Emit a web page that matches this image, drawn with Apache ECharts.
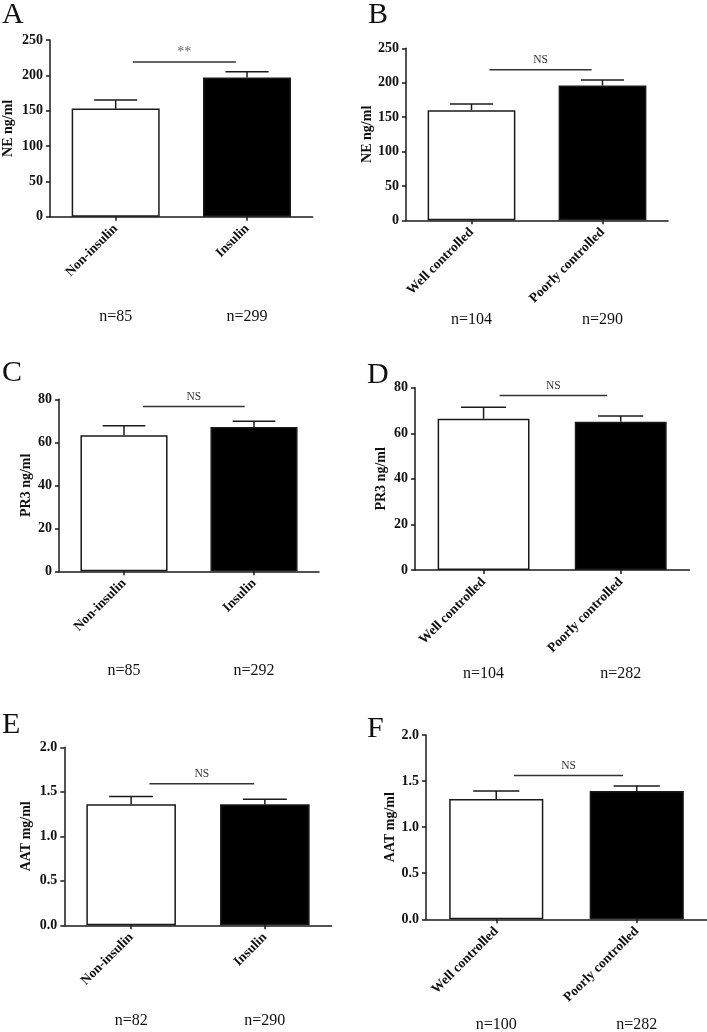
<!DOCTYPE html>
<html>
<head>
<meta charset="utf-8">
<script src="https://cdn.jsdelivr.net/npm/echarts@6/dist/echarts.min.js"></script>
<style>
html,body{margin:0;padding:0;background:#fff;}
#chart{width:707px;height:1032px;}
</style>
</head>
<body>
<div id="chart"></div>
<script>
// ---------- DATA ----------
const panelLetters = ['A', 'B', 'C', 'D', 'E', 'F'];
const insulinCategories = ['Non-insulin', 'Insulin'];
const controlCategories = ['Well controlled', 'Poorly controlled'];

const neInsulinMean = [153, 197];
const neInsulinSem = [12, 8];
const neControlMean = [160, 196];
const neControlSem = [9, 8];

const pr3InsulinMean = [63.3, 67.1];
const pr3InsulinSem = [4.4, 2.7];
const pr3ControlMean = [66.4, 65.1];
const pr3ControlSem = [5.0, 2.5];

const aatInsulinMean = [1.36, 1.36];
const aatInsulinSem = [0.088, 0.056];
const aatControlMean = [1.305, 1.392];
const aatControlSem = [0.087, 0.055];

const nNeInsulin = ['n=85', 'n=299'];
const nNeControl = ['n=104', 'n=290'];
const nPr3Insulin = ['n=85', 'n=292'];
const nPr3Control = ['n=104', 'n=282'];
const nAatInsulin = ['n=82', 'n=290'];
const nAatControl = ['n=100', 'n=282'];

const yTitles = ['NE ng/ml', 'NE ng/ml', 'PR3 ng/ml', 'PR3 ng/ml', 'AAT mg/ml', 'AAT mg/ml'];
const yMax = [250, 250, 80, 80, 2, 2];
const yInterval = [50, 50, 20, 20, 0.5, 0.5];
const yDecimals = [0, 0, 0, 0, 1, 1];

const sigLabels = ['**', 'NS', 'NS', 'NS', 'NS', 'NS'];
const sigLevels = [219, 219, 76.6, 76.6, 1.59, 1.56];

// ---------- LAYOUT ----------
const panels = [
  {cats: insulinCategories, mean: neInsulinMean, sem: neInsulinSem, n: nNeInsulin,
   grid: {left: 47, top: 40, width: 265.7, height: 176.7}, nameGap: 35, nOff: 100,
   sig: [0.13, 0.915], letter: [2, 13.5]},
  {cats: controlCategories, mean: neControlMean, sem: neControlSem, n: nNeControl,
   grid: {left: 406, top: 48.3, width: 262, height: 172}, nameGap: 32, nOff: 99,
   sig: [0.137, 0.917], letter: [368, 13.5]},
  {cats: insulinCategories, mean: pr3InsulinMean, sem: pr3InsulinSem, n: nPr3Insulin,
   grid: {left: 59, top: 399.3, width: 260, height: 172}, nameGap: 26, nOff: 99,
   sig: [0.145, 0.928], letter: [2, 371.5]},
  {cats: controlCategories, mean: pr3ControlMean, sem: pr3ControlSem, n: nPr3Control,
   grid: {left: 415, top: 387.7, width: 274.3, height: 182.3}, nameGap: 27, nOff: 104,
   sig: [0.117, 0.9], letter: [367, 373]},
  {cats: insulinCategories, mean: aatInsulinMean, sem: aatInsulinSem, n: nAatInsulin,
   grid: {left: 64.3, top: 747.3, width: 267.4, height: 178}, nameGap: 31, nOff: 95,
   sig: [0.137, 0.92], letter: [2, 723]},
  {cats: controlCategories, mean: aatControlMean, sem: aatControlSem, n: nAatControl,
   grid: {left: 426, top: 735, width: 281, height: 184.3}, nameGap: 28, nOff: 105,
   sig: [0.126, 0.903], letter: [367, 727]}
];

const FONT = '"Liberation Serif", "Times New Roman", serif';
const AX = '#1a1a1a';
const BAR_FRAC = 0.67;

const grids = [], xAxes = [], yAxes = [], series = [], graphics = [];

panels.forEach((p, i) => {
  grids.push(Object.assign({containLabel: false}, p.grid));
  xAxes.push({
    type: 'category', gridIndex: i, data: p.cats, boundaryGap: true,
    axisLine: {show: true, lineStyle: {color: AX, width: 1.5}},
    axisTick: {show: true, alignWithLabel: true, length: 4, lineStyle: {color: AX, width: 1.5}},
    axisLabel: {interval: 0, rotate: 45, margin: 10, color: '#111',
      fontFamily: FONT, fontWeight: 'bold', fontSize: 13.5},
    splitLine: {show: false}
  });
  yAxes.push({
    type: 'value', gridIndex: i, min: 0, max: yMax[i], interval: yInterval[i],
    name: yTitles[i], nameLocation: 'middle', nameGap: p.nameGap,
    nameTextStyle: {fontFamily: FONT, fontWeight: 'bold', fontSize: 14, color: '#111'},
    axisLine: {show: true, lineStyle: {color: AX, width: 1.5}},
    axisTick: {show: true, length: 4, lineStyle: {color: AX, width: 1.5}},
    axisLabel: {margin: 7, color: '#111', fontFamily: FONT, fontWeight: 'bold', fontSize: 14,
      formatter: v => v.toFixed(yDecimals[i])},
    splitLine: {show: false}
  });
  series.push({
    type: 'bar', xAxisIndex: i, yAxisIndex: i, barWidth: (BAR_FRAC * 100) + '%',
    data: p.mean.map((v, k) => ({
      value: v,
      itemStyle: {color: k === 0 ? '#ffffff' : '#000000', borderColor: '#1a1a1a', borderWidth: 1.5}
    })),
    silent: true, z: 2
  });
  // error bars (upper SEM)
  series.push({
    type: 'custom', xAxisIndex: i, yAxisIndex: i, clip: false, silent: true, z: 5,
    data: p.mean.map((v, k) => [k, v, p.sem[k]]),
    renderItem: (params, api) => {
      const x = api.value(0), m = api.value(1), s = api.value(2);
      const p0 = api.coord([x, m]);
      const p1 = api.coord([x, m + s]);
      const band = api.coord([1, 0])[0] - api.coord([0, 0])[0];
      const half = band * BAR_FRAC * 0.245;
      const st = {stroke: '#1a1a1a', lineWidth: 1.5};
      return {type: 'group', children: [
        {type: 'line', shape: {x1: p0[0], y1: p0[1], x2: p1[0], y2: p1[1]}, style: st},
        {type: 'line', shape: {x1: p1[0] - half, y1: p1[1], x2: p1[0] + half, y2: p1[1]}, style: st}
      ]};
    }
  });
  // significance line and label
  series.push({
    type: 'custom', xAxisIndex: i, yAxisIndex: i, clip: false, silent: true, z: 5,
    data: [[0, sigLevels[i]]],
    renderItem: (params, api) => {
      const y = api.value(1);
      const c0 = api.coord([0, y]);
      const band = api.coord([1, y])[0] - c0[0];
      const xa = c0[0] + p.sig[0] * band, xb = c0[0] + p.sig[1] * band;
      return {type: 'group', children: [
        {type: 'line', shape: {x1: xa, y1: c0[1], x2: xb, y2: c0[1]}, style: {stroke: '#333', lineWidth: 1.5}},
        {type: 'text', x: (xa + xb) / 2, y: c0[1] - 9.5,
         style: {text: sigLabels[i], align: 'center', verticalAlign: 'middle',
           font: (sigLabels[i] === '**' ? '14px ' : '11.5px ') + FONT, fill: sigLabels[i] === '**' ? '#666' : '#333'}}
      ]};
    }
  });
  // n labels under categories
  series.push({
    type: 'custom', xAxisIndex: i, yAxisIndex: i, clip: false, silent: true, z: 5,
    data: p.n.map((t, k) => [k, 0]),
    renderItem: (params, api) => {
      const c = api.coord([api.value(0), 0]);
      return {type: 'text', x: c[0], y: c[1] + p.nOff,
        style: {text: p.n[params.dataIndex], align: 'center', verticalAlign: 'middle',
          font: '16px ' + FONT, fill: '#111'}};
    }
  });
  graphics.push({
    type: 'text', left: p.letter[0], top: p.letter[1] - 13,
    style: {text: panelLetters[i], font: '30px ' + FONT, fill: '#111'}
  });
});

const chart = echarts.init(document.getElementById('chart'), null, {renderer: 'canvas'});
chart.setOption({
  backgroundColor: '#ffffff',
  animation: false,
  grid: grids, xAxis: xAxes, yAxis: yAxes, series: series,
  graphic: graphics
});
</script>
</body>
</html>
